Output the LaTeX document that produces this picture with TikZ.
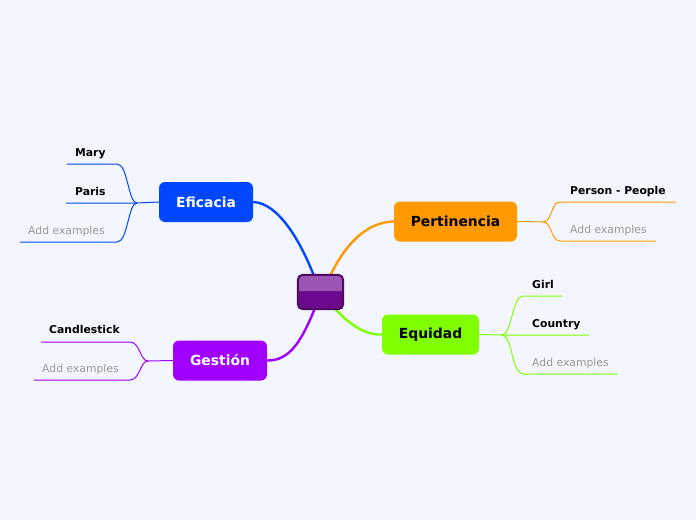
\documentclass[tikz,border=0pt]{standalone}
\usepackage{fontspec}
\setmainfont{DejaVu Sans}
\definecolor{bgcol}{HTML}{F3F6FE}
\definecolor{cblue}{HTML}{0047FF}
\definecolor{corange}{HTML}{FF9900}
\definecolor{cgreen}{HTML}{80FF00}
\definecolor{cpurple}{HTML}{A000FF}
\definecolor{ctop}{HTML}{9B55B5}
\definecolor{cbot}{HTML}{6B0A8D}
\definecolor{cedge}{HTML}{4F0A60}
\definecolor{cgray}{HTML}{999999}
\begin{document}
\begin{tikzpicture}[x=1pt,y=-1pt,
  topic/.style={rounded corners=6pt, minimum height=40pt, inner sep=0pt,
    font=\bfseries\fontsize{13.9}{16}\selectfont},
  leaf/.style={anchor=base west, inner sep=0pt, font=\bfseries\fontsize{10.8}{12}\selectfont},
  addex/.style={anchor=base west, inner sep=0pt, text=cgray, font=\fontsize{10.8}{12}\selectfont},
  mainline/.style={line width=2.4pt},
  subline/.style={line width=1pt}]
\fill[bgcol] (0,0) rectangle (696,520);
\useasboundingbox (0,0) rectangle (696,520);

% central node
\node[minimum width=45pt, minimum height=34pt, inner sep=0pt] (ctr) at (320.5,292) {};
\coordinate (cEf) at (314,276);
\coordinate (cPe) at (330,276);
\coordinate (cEq) at (334,308);
\coordinate (cGe) at (315,308);

% topics
\node[topic, fill=cblue, text=white, minimum width=94pt] (ef) at (206,202) {Eficacia};
\node[topic, fill=corange, text=black, minimum width=123pt] (pe) at (455.5,221.5) {Pertinencia};
\node[topic, fill=cgreen, text=black, minimum width=97pt] (eq) at (430.5,334.5) {Equidad};
\node[topic, fill=cpurple, text=white, minimum width=94pt] (ge) at (220,360.5) {Gestión};

% main connectors
\draw[mainline, cblue] (ef.east) .. controls (278,203) and (300,240) .. (cEf);
\draw[mainline, corange] (pe.west) .. controls (366,222) and (345,245) .. (cPe);
\draw[mainline, cgreen] (eq.west) .. controls (362,335) and (348,322) .. (cEq);
\draw[mainline, cpurple] (ge.east) .. controls (290,361) and (302,340) .. (cGe);

% central node drawing (on top of connectors)
\begin{scope}
\fill[cbot, rounded corners=5pt] (ctr.north west) rectangle (ctr.south east);
\clip[rounded corners=5pt] (ctr.north west) rectangle (ctr.south east);
\fill[ctop] (ctr.north west) rectangle ([yshift=1pt]ctr.east);
\end{scope}
\draw[cedge, line width=2pt, rounded corners=5pt] (ctr.north west) rectangle (ctr.south east);

% Eficacia leaves
\coordinate (efb) at (137,203);
\node[leaf] (mary) at (75,156) {Mary};
\node[leaf] (paris) at (75,195) {Paris};
\node[addex] (efadd) at (28,234) {Add examples};
\coordinate (maryR) at (117,164); \coordinate (maryL) at (67,164);
\coordinate (parisL) at (66,203);
\coordinate (efaddR) at (117,242); \coordinate (efaddL) at (20,242);
\draw[subline, cblue] (ef.west) -- (efb) -- (parisL);
\draw[subline, cblue] (efb) .. controls (128,203) and (128,164) .. (maryR) -- (maryL);
\draw[subline, cblue] (efb) .. controls (128,203) and (128,242) .. (efaddR) -- (efaddL);

% Pertinencia leaves
\coordinate (peb) at (543,222);
\draw[subline, corange] (pe.east) -- (peb);
\node[leaf] (person) at (570,194) {Person - People};
\node[addex] (peadd) at (570,233) {Add examples};
\coordinate (personL) at (560,202); \coordinate (personR) at (676,202);
\coordinate (peaddL) at (560,241); \coordinate (peaddR) at (656,241);
\draw[subline, corange] (peb) .. controls (552,222) and (551,202) .. (personL) -- (personR);
\draw[subline, corange] (peb) .. controls (552,222) and (551,241) .. (peaddL) -- (peaddR);

% Equidad leaves
\coordinate (eqb) at (502,335);
\node[leaf] (girl) at (532,288) {Girl};
\node[leaf] (country) at (532,327) {Country};
\node[addex] (eqadd) at (532,366) {Add examples};
\coordinate (girlL) at (523,296); \coordinate (girlR) at (562,296);
\coordinate (countryR) at (589,335);
\coordinate (eqaddL) at (523,374); \coordinate (eqaddR) at (618,374);
\draw[subline, cgreen] (eq.east) -- (eqb) -- (countryR);
\draw[subline, cgreen] (eqb) .. controls (512,335) and (512,296) .. (girlL) -- (girlR);
\draw[subline, cgreen] (eqb) .. controls (512,335) and (512,374) .. (eqaddL) -- (eqaddR);

% Gestión leaves
\coordinate (geb) at (148,361);
\draw[subline, cpurple] (ge.west) -- (geb);
\node[leaf] (candle) at (49,333) {Candlestick};
\node[addex] (geadd) at (42,372) {Add examples};
\coordinate (candleR) at (130,342); \coordinate (candleL) at (41,342);
\coordinate (geaddR) at (130,380); \coordinate (geaddL) at (34,380);
\draw[subline, cpurple] (geb) .. controls (140,361) and (140,342) .. (candleR) -- (candleL);
\draw[subline, cpurple] (geb) .. controls (140,361) and (140,380) .. (geaddR) -- (geaddL);
\end{tikzpicture}
\end{document}
